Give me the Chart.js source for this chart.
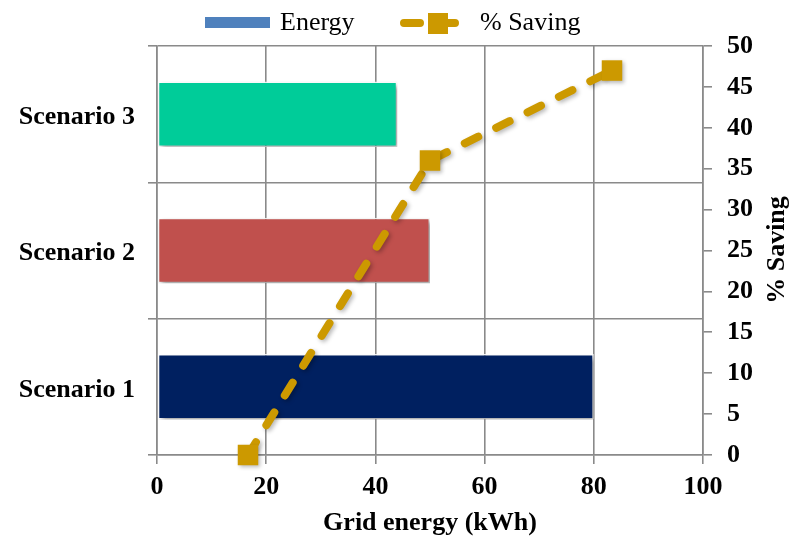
<!DOCTYPE html>
<html>
<head>
<meta charset="utf-8">
<script src="https://cdn.jsdelivr.net/npm/chart.js@4/dist/chart.umd.min.js"></script>
<style>
  html, body { margin: 0; padding: 0; background: #ffffff; }
  #wrap { width: 792px; height: 539px; }
</style>
</head>
<body>
<div id="wrap"><canvas id="chart" width="792" height="539"></canvas></div>
<script>
// Scenario data
const categories = ['Scenario 1', 'Scenario 2', 'Scenario 3'];
const energyKWh = [80, 50, 44];
const savingPct = [0, 36, 47];
const barColors = ['#002060', '#C0504D', '#00CC99'];
const energyTicks = [0, 20, 40, 60, 80, 100];
const savingTicks = [0, 5, 10, 15, 20, 25, 30, 35, 40, 45, 50];

const FONT = "'Liberation Serif', 'Times New Roman', serif";
const GRID = '#8a8a8a';
const GOLD = '#CC9900';
const LEGEND_BLUE = '#4F81BD';

Chart.defaults.font.family = FONT;
Chart.defaults.color = '#000000';

// Soft drop shadow behind bars and markers
const shadowPlugin = {
  id: 'shadow',
  beforeDatasetDraw(chart, args) {
    const ctx = chart.ctx;
    ctx.save();
    const isLine = chart.data.datasets[args.index].type === 'line';
    ctx.shadowColor = isLine ? 'rgba(0,0,0,0.28)' : 'rgba(0,0,0,0.38)';
    ctx.shadowBlur = isLine ? 4 : 5;
    ctx.shadowOffsetX = isLine ? 2 : 3;
    ctx.shadowOffsetY = isLine ? 2 : 3;
  },
  afterDatasetDraw(chart) {
    chart.ctx.restore();
  }
};

// Legend row and the right-hand axis title
const decorPlugin = {
  id: 'decor',
  afterDraw(chart) {
    const ctx = chart.ctx;
    const ds = chart.data.datasets;
    ctx.save();
    // Energy swatch
    ctx.fillStyle = LEGEND_BLUE;
    ctx.fillRect(205, 17, 65, 11);
    ctx.fillStyle = '#000';
    ctx.font = '26px ' + FONT;
    ctx.textAlign = 'left';
    ctx.textBaseline = 'alphabetic';
    ctx.fillText(ds[1].label, 280, 30);
    // % Saving sample: dashed line with square marker
    ctx.strokeStyle = GOLD;
    ctx.lineWidth = 8;
    ctx.lineCap = 'round';
    ctx.beginPath();
    ctx.moveTo(404, 23);
    ctx.lineTo(420, 23);
    ctx.moveTo(447, 23);
    ctx.lineTo(455, 23);
    ctx.stroke();
    ctx.fillStyle = GOLD;
    ctx.fillRect(428, 13, 20, 21);
    ctx.fillStyle = '#000';
    ctx.fillText(ds[0].label, 480, 30);
    // Right axis title, reading bottom to top
    ctx.font = 'bold 26px ' + FONT;
    ctx.translate(784, 250);
    ctx.rotate(-Math.PI / 2);
    ctx.textAlign = 'center';
    ctx.fillText('% Saving', 0, 0);
    ctx.restore();
  }
};

const tickFont = { family: FONT, size: 26, weight: 'bold' };

new Chart(document.getElementById('chart'), {
  type: 'bar',
  data: {
    labels: categories,
    datasets: [
      {
        type: 'line',
        label: '% Saving',
        data: savingPct,
        indexAxis: 'x',
        xAxisID: 'xc',
        yAxisID: 'yr',
        clip: false,
        borderColor: GOLD,
        borderWidth: 8,
        borderDash: [15, 20],
        borderCapStyle: 'round',
        fill: false,
        tension: 0,
        pointStyle: 'rect',
        pointRadius: 14.5,
        pointHoverRadius: 14.5,
        pointBackgroundColor: GOLD,
        pointBorderColor: GOLD,
        pointBorderWidth: 0,
        order: 1
      },
      {
        type: 'bar',
        label: 'Energy',
        data: energyKWh,
        indexAxis: 'y',
        xAxisID: 'x',
        yAxisID: 'y',
        grouped: false,
        backgroundColor: barColors,
        borderColor: 'rgba(255,255,255,0.9)',
        borderWidth: 1.5,
        borderSkipped: false,
        barPercentage: 0.48,
        categoryPercentage: 1,
        order: 2
      }
    ]
  },
  options: {
    indexAxis: 'y',
    responsive: false,
    animation: false,
    events: [],
    layout: { padding: { top: 46, left: 0, right: 0, bottom: 0 } },
    plugins: {
      legend: { display: false },
      tooltip: { enabled: false },
      title: { display: false }
    },
    scales: {
      x: {
        type: 'linear',
        position: 'bottom',
        min: 0,
        max: 100,
        offset: false,
        afterBuildTicks(scale) { scale.ticks = energyTicks.map(v => ({ value: v })); },
        afterFit(scale) { scale.height = 84; },
        ticks: { font: tickFont, color: '#000', padding: 8, maxRotation: 0 },
        grid: { color: GRID, lineWidth: 1.6, tickLength: 9, offset: false },
        border: { display: true, color: GRID, width: 1.6 },
        title: {
          display: true,
          text: 'Grid energy (kWh)',
          font: tickFont,
          color: '#000',
          padding: { top: 0, bottom: 0 }
        }
      },
      y: {
        type: 'category',
        position: 'left',
        reverse: true,
        offset: true,
        afterFit(scale) { scale.width = 157; },
        ticks: { font: tickFont, color: '#000', padding: 13, labelOffset: 3 },
        grid: { color: GRID, lineWidth: 1.6, tickLength: 9, offset: true },
        border: { display: true, color: GRID, width: 1.6 }
      },
      xc: {
        type: 'category',
        position: 'top',
        display: false,
        offset: true,
        grid: { offset: true }
      },
      yr: {
        type: 'linear',
        position: 'right',
        min: 0,
        max: 50,
        offset: false,
        afterBuildTicks(scale) { scale.ticks = savingTicks.map(v => ({ value: v })); },
        afterFit(scale) { scale.width = 89; },
        ticks: { font: tickFont, color: '#000', padding: 15 },
        grid: { drawOnChartArea: false, color: GRID, lineWidth: 1.6, tickLength: 9, offset: false },
        border: { display: true, color: GRID, width: 1.6 }
      }
    }
  },
  plugins: [shadowPlugin, decorPlugin]
});
</script>
</body>
</html>
